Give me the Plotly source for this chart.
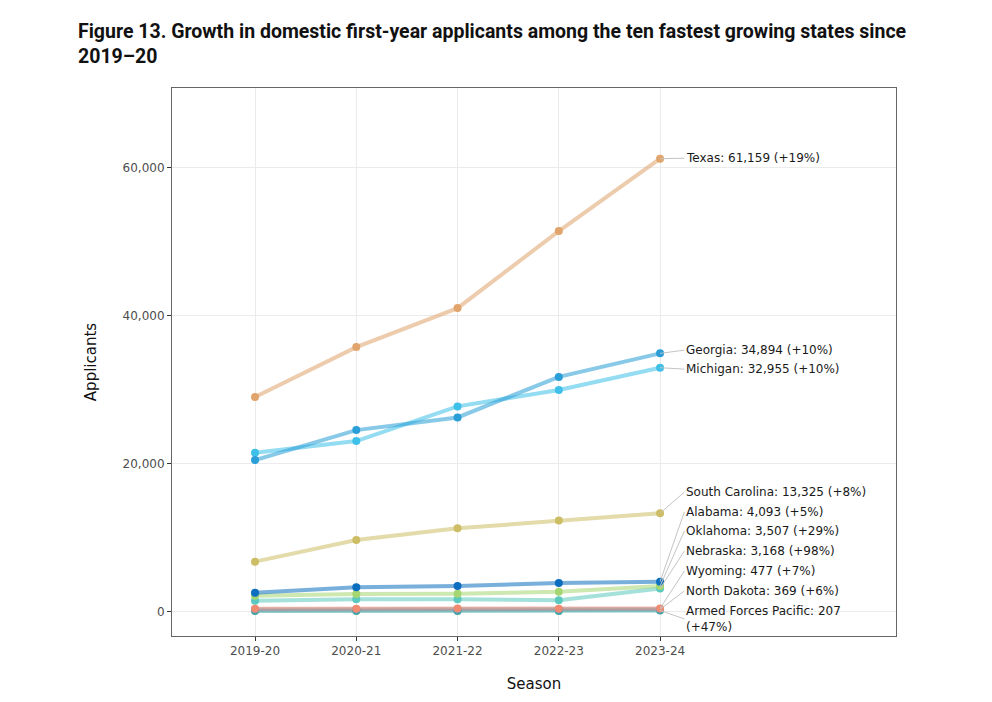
import plotly.graph_objects as go

seasons = ["2019-20", "2020-21", "2021-22", "2022-23", "2023-24"]

states = ["Texas", "Georgia", "Michigan", "South Carolina", "Alabama",
          "Oklahoma", "Nebraska", "Wyoming", "North Dakota", "Armed Forces Pacific"]

texas = [29000, 35740, 41000, 51390, 61159]
georgia = [20500, 24540, 26250, 31720, 34894]
michigan = [21480, 23060, 27740, 29960, 32955]
south_carolina = [6790, 9710, 11290, 12340, 13325]
alabama = [2610, 3330, 3510, 3900, 4093]
oklahoma = [2200, 2430, 2470, 2720, 3507]
nebraska = [1530, 1710, 1710, 1600, 3168]
wyoming = [420, 440, 470, 446, 477]
north_dakota = [330, 340, 350, 348, 369]
af_pacific = [120, 130, 150, 141, 207]

pct_change = ["+19%", "+10%", "+10%", "+8%", "+5%", "+29%", "+98%", "+7%", "+6%", "+47%"]

series = [texas, georgia, michigan, south_carolina, alabama,
          oklahoma, nebraska, wyoming, north_dakota, af_pacific]

marker_colors = ["#E0A46C", "#2A9ED6", "#3EC0E8", "#CDBE66", "#0B6EBE",
                 "#A6D672", "#5CC9BE", "#F08A70", "#4F9FCF", "#3AA59B"]

# label y positions (layout only, in data units)
label_y = [61230, 35330, 32770, 16180, 13490, 10920, 8230, 5530, 2830, -940]

xi = list(range(len(seasons)))

fig = go.Figure()
draw_order = [9, 8, 6, 5, 4, 7, 3, 2, 1, 0]
for i in draw_order:
    fig.add_trace(go.Scatter(
        x=xi, y=series[i], mode="lines", name=states[i],
        line=dict(color=marker_colors[i], width=4), opacity=0.55,
        hoverinfo="skip", showlegend=False))
for i in draw_order:
    fig.add_trace(go.Scatter(
        x=xi, y=series[i], mode="markers", name=states[i],
        marker=dict(color=marker_colors[i], size=8),
        showlegend=False))

for i in range(len(states)):
    last = series[i][-1]
    txt = f"{states[i]}: {last:,} ({pct_change[i]})"
    if states[i] == "Armed Forces Pacific":
        txt = f"{states[i]}: {last:,}<br>({pct_change[i]})"
    fig.add_annotation(
        x=xi[-1], y=last, xref="x", yref="y",
        ax=4.24, ay=label_y[i], axref="x", ayref="y",
        text=txt, showarrow=True, arrowhead=0, arrowwidth=1,
        arrowcolor="#C4C4C4", xanchor="left", yanchor="middle", align="left",
        font=dict(family="DejaVu Sans", size=12, color="#1a1a1a"))

fig.update_layout(
    width=992, height=702,
    paper_bgcolor="white", plot_bgcolor="white",
    margin=dict(l=172, r=96, t=88, b=66, autoexpand=False),
    title=dict(
        text="<b>Figure 13. Growth in domestic first-year applicants among the ten fastest growing states since<br>2019–20</b>",
        x=78/992, xref="container", xanchor="left", y=0.946, yanchor="top",
        font=dict(family="Roboto", size=19.5, color="#111111")),
)

fig.update_xaxes(
    tickvals=xi, ticktext=seasons, range=[-0.82, 6.33], automargin=False,
    showgrid=True, gridcolor="#EBEBEB", gridwidth=1,
    showline=True, linecolor="#666666", linewidth=1, mirror=True,
    ticks="outside", ticklen=4, tickcolor="#333333",
    tickfont=dict(family="DejaVu Sans", size=12, color="#4d4d4d"),
    title=dict(text="Season", font=dict(family="DejaVu Sans", size=15, color="#111111"), standoff=21),
    zeroline=False)
fig.update_yaxes(
    range=[-3240, 70700], tickvals=[0, 20000, 40000, 60000], tickformat=",",
    automargin=False,
    showgrid=True, gridcolor="#EBEBEB", gridwidth=1,
    showline=True, linecolor="#666666", linewidth=1, mirror=True,
    ticks="outside", ticklen=4, tickcolor="#333333",
    tickfont=dict(family="DejaVu Sans", size=12, color="#4d4d4d"),
    title=dict(text="Applicants", font=dict(family="DejaVu Sans", size=15, color="#111111"), standoff=22),
    zeroline=False)

fig.write_html("out.html")
